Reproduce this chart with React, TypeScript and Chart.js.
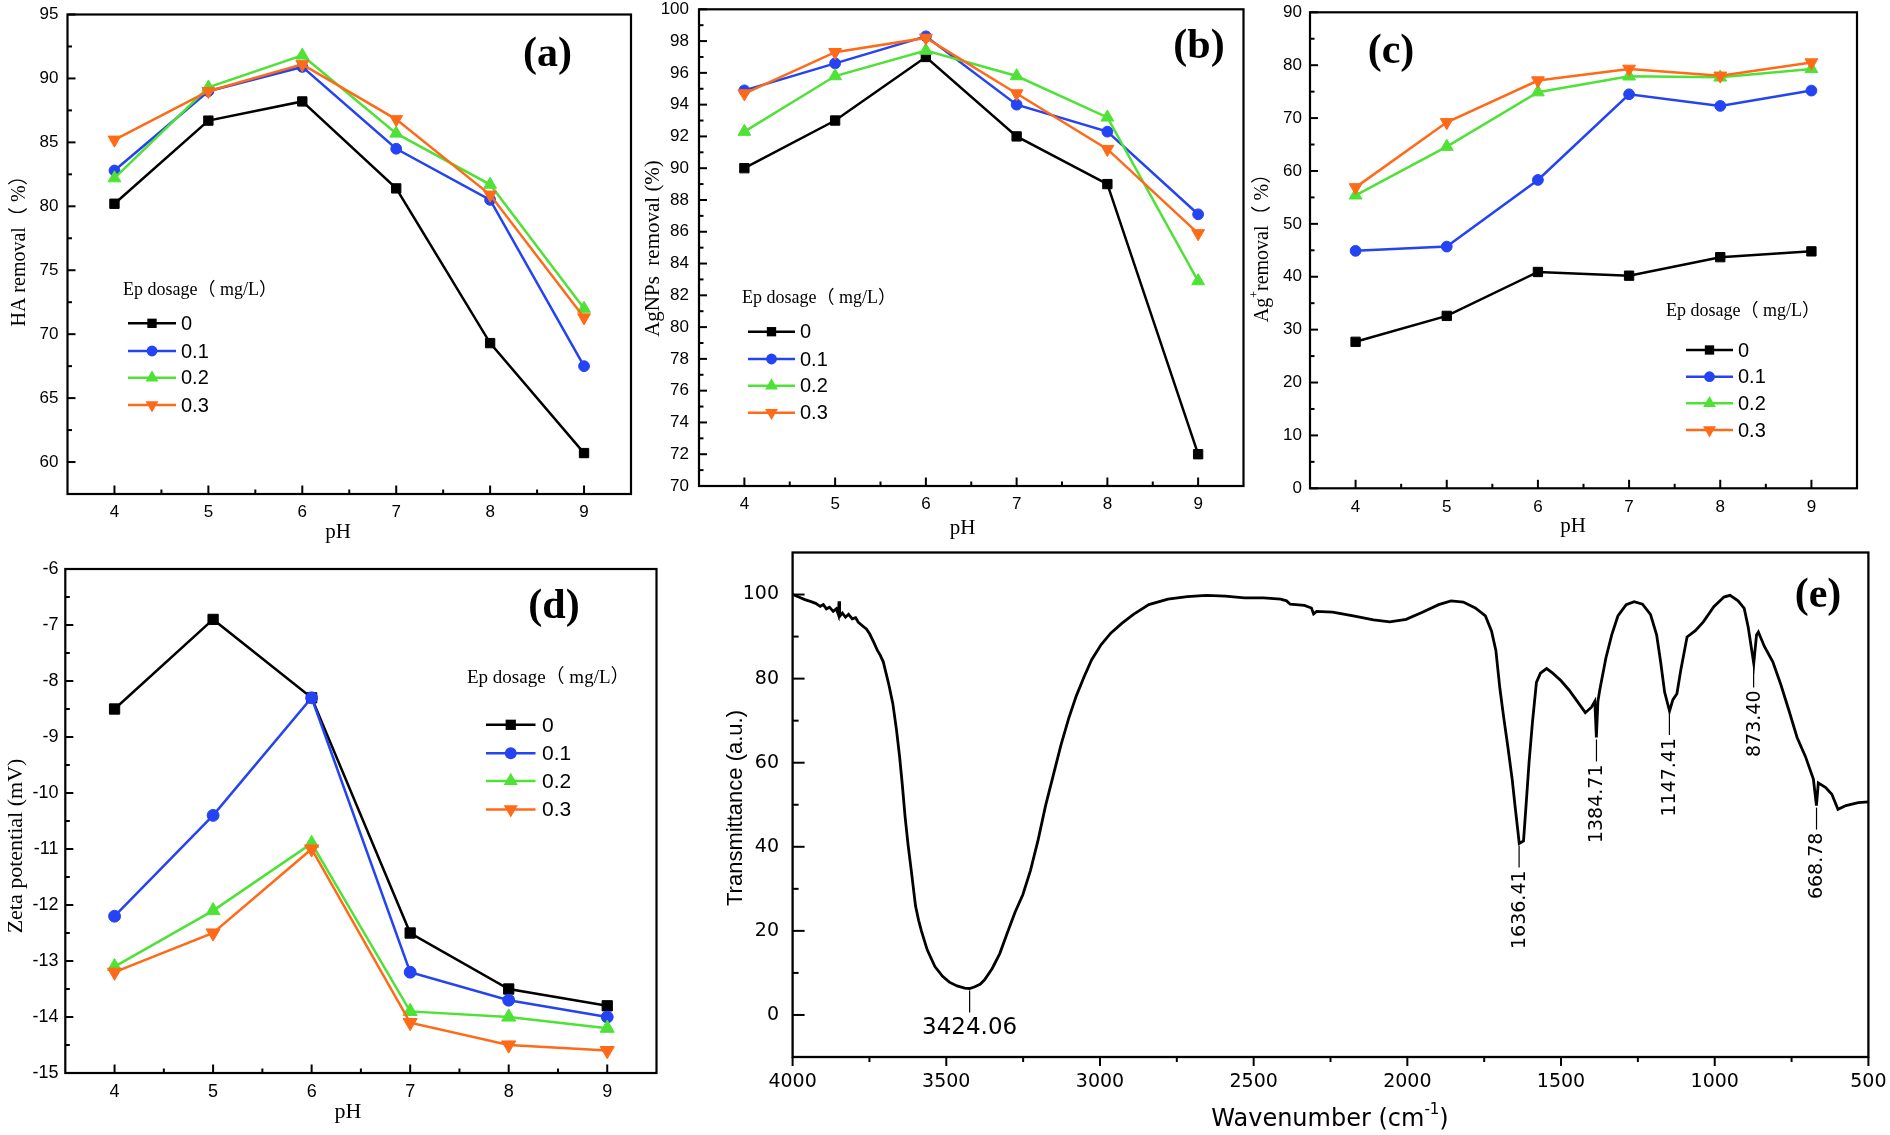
import React, { useEffect, useRef } from "react";
import { Chart, registerables } from "chart.js";

Chart.register(...registerables);

// ---------------- data ----------------
const PH = [4, 5, 6, 7, 8, 9];
const DOSAGE_LABELS = ["0", "0.1", "0.2", "0.3"];
const LEGEND_TITLE = "Ep dosage（ mg/L）";

const HA_REMOVAL_0 = [80.2, 86.7, 88.2, 81.4, 69.3, 60.7];
const HA_REMOVAL_01 = [82.8, 89.0, 90.9, 84.5, 80.5, 67.5];
const HA_REMOVAL_02 = [82.2, 89.3, 91.8, 85.7, 81.7, 72.0];
const HA_REMOVAL_03 = [85.2, 89.0, 91.1, 86.8, 80.9, 71.3];

const AGNP_REMOVAL_0 = [90.0, 93.0, 97.0, 92.0, 89.0, 72.0];
const AGNP_REMOVAL_01 = [94.9, 96.6, 98.3, 94.0, 92.3, 87.1];
const AGNP_REMOVAL_02 = [92.3, 95.8, 97.4, 95.8, 93.2, 82.9];
const AGNP_REMOVAL_03 = [94.7, 97.3, 98.2, 94.7, 91.2, 85.9];

const AGION_REMOVAL_0 = [27.7, 32.6, 40.9, 40.2, 43.7, 44.8];
const AGION_REMOVAL_01 = [44.9, 45.7, 58.3, 74.5, 72.3, 75.2];
const AGION_REMOVAL_02 = [55.4, 64.6, 74.9, 77.9, 77.7, 79.3];
const AGION_REMOVAL_03 = [56.9, 69.2, 77.1, 79.3, 78.0, 80.5];

const ZETA_0 = [-8.5, -6.9, -8.3, -12.5, -13.5, -13.8];
const ZETA_01 = [-12.2, -10.4, -8.3, -13.2, -13.7, -14.0];
const ZETA_02 = [-13.1, -12.1, -10.9, -13.9, -14.0, -14.2];
const ZETA_03 = [-13.2, -12.5, -11.0, -14.1, -14.5, -14.6];

const PH_TICKS = [4, 5, 6, 7, 8, 9];
const HA_TICKS = [60, 65, 70, 75, 80, 85, 90, 95];
const AGNP_TICKS = [70, 72, 74, 76, 78, 80, 82, 84, 86, 88, 90, 92, 94, 96, 98, 100];
const AGION_TICKS = [0, 10, 20, 30, 40, 50, 60, 70, 80, 90];
const ZETA_TICKS = [-15, -14, -13, -12, -11, -10, -9, -8, -7, -6];
const WN_TICKS = [4000, 3500, 3000, 2500, 2000, 1500, 1000, 500];
const T_TICKS = [0, 20, 40, 60, 80, 100];

const WAVENUMBER = [
  4000, 3980, 3960, 3940, 3925, 3910, 3900, 3890, 3880, 3868, 3858, 3851, 3849, 3847,
  3838, 3828, 3818, 3806, 3795, 3786, 3770, 3760, 3749, 3735, 3724, 3715, 3705, 3695,
  3687, 3674, 3662, 3652, 3643, 3634, 3624, 3614, 3600, 3590, 3581, 3562, 3537, 3512,
  3490, 3465, 3440, 3424, 3407, 3390, 3376, 3351, 3326, 3301, 3276, 3251, 3226, 3201,
  3177, 3152, 3127, 3102, 3077, 3052, 3027, 2996, 2965, 2928, 2891, 2841, 2779, 2716,
  2654, 2592, 2530, 2468, 2412, 2393, 2381, 2335, 2312, 2305, 2295, 2243, 2176, 2110,
  2057, 2004, 1951, 1898, 1858, 1818, 1779, 1746, 1726, 1712, 1699, 1686, 1673, 1659,
  1649, 1640, 1636, 1622, 1613, 1604, 1593, 1580, 1567, 1547, 1527, 1500, 1474, 1447,
  1421, 1401, 1390, 1385, 1380, 1374, 1354, 1335, 1315, 1288, 1262, 1235, 1209, 1189,
  1176, 1163, 1147, 1136, 1123, 1110, 1090, 1063, 1037, 1003, 970, 950, 924, 904,
  891, 873, 864, 858, 838, 811, 785, 758, 732, 705, 679, 669, 663, 639,
  619, 599, 573, 533, 500,
];
const TRANSMITTANCE = [
  100.0, 99.4, 98.8, 98.3, 97.9, 97.2, 97.6, 96.6, 97.0, 96.0, 96.6, 95.2, 98.4, 94.8,
  95.6, 94.6, 95.3, 94.2, 94.5, 93.4, 92.4, 91.8, 90.6, 88.5, 86.7, 85.6, 84.0, 81.0,
  78.6, 74.1, 67.8, 61.5, 54.7, 47.1, 40.3, 34.4, 25.9, 22.5, 20.0, 15.5, 11.5, 9.2,
  7.8, 6.9, 6.4, 6.3, 6.7, 7.3, 8.3, 11.0, 14.6, 19.6, 24.5, 28.6, 34.4, 41.7,
  49.8, 57.0, 64.2, 70.5, 75.9, 80.4, 84.5, 88.1, 90.8, 93.2, 95.3, 97.6, 98.9, 99.5,
  99.8, 99.6, 99.2, 99.2, 98.9, 98.5, 97.7, 97.4, 96.8, 95.4, 96.0, 95.8, 94.9, 94.0,
  93.5, 94.1, 95.8, 97.6, 98.5, 98.2, 96.8, 94.9, 91.3, 86.7, 77.7, 70.5, 63.8, 56.1,
  49.3, 43.5, 40.8, 41.4, 50.7, 60.1, 69.6, 79.1, 81.3, 82.4, 81.3, 79.5, 77.3, 74.6,
  71.9, 73.2, 74.6, 66.0, 74.6, 77.3, 84.9, 90.4, 94.9, 97.6, 98.3, 97.7, 95.3, 90.4,
  84.0, 76.8, 72.3, 75.0, 76.4, 82.2, 89.9, 91.4, 93.5, 97.1, 99.4, 99.8, 98.5, 96.7,
  92.2, 83.6, 90.4, 91.1, 87.6, 84.0, 78.6, 72.3, 66.0, 61.5, 56.1, 49.8, 55.2, 54.1,
  52.5, 48.9, 49.8, 50.5, 50.7,
];

const PEAK_WN = [3424.06, 1636.41, 1384.71, 1147.41, 873.4, 668.78];
const PEAK_T = [6.3, 40.8, 66.0, 72.3, 83.6, 49.8];
const PEAK_LABELS = ["3424.06", "1636.41", "1384.71", "1147.41", "873.40", "668.78"];

// ---------------- styles ----------------
const BLUE = "#2443f2";
const GREEN = "#4fe236";
const ORANGE = "#ff6a18";
const SERIES_STYLES = [
  { color: "#000000", shape: "rect", rot: 0 },
  { color: BLUE, shape: "circle", rot: 0 },
  { color: GREEN, shape: "triangle", rot: 0 },
  { color: ORANGE, shape: "triangle", rot: 180 },
];
const MARKER_R: Record<string, number> = { rect: 6.6, circle: 5.4, triangle: 7.4 };

const SANS = "'Liberation Sans', Arial, sans-serif";
const SERIF = "'Liberation Serif', 'Times New Roman', 'Noto Sans CJK SC', serif";
const DEJAVU = "'DejaVu Sans', sans-serif";

type Part = { t: string; sup?: boolean };

const PANEL_A = {
  id: "a", left: 67.5, top: 14.5, right: 631, bottom: 494, m: [68, 15, 12, 52],
  xMin: 3.5, xMax: 9.5, yMin: 57.5, yMax: 95, xTicks: PH_TICKS, yTicks: HA_TICKS,
  series: [HA_REMOVAL_0, HA_REMOVAL_01, HA_REMOVAL_02, HA_REMOVAL_03],
  tickFont: 17, xTickY: 512.5, yTickRight: 58.5,
  yTitle: [{ t: "HA removal（ %）" }] as Part[], yTitleX: 20, yTitleY: 246, yTitleSize: 20,
  xTitleX: 338, xTitleY: 532.5, xTitleSize: 21,
  legend: { titleX: 123, titleY: 290, titleSize: 18, x1: 128, x2: 176, labelX: 181, rows: [323.3, 351, 377.7, 405], labelSize: 20 },
  label: "(a)", labelX: 547.5, labelY: 55, markerScale: 1,
};
const PANEL_B = {
  id: "b", left: 699, top: 9.3, right: 1243.5, bottom: 486, m: [62, 9, 10, 55],
  xMin: 3.5, xMax: 9.5, yMin: 70, yMax: 100, xTicks: PH_TICKS, yTicks: AGNP_TICKS,
  series: [AGNP_REMOVAL_0, AGNP_REMOVAL_01, AGNP_REMOVAL_02, AGNP_REMOVAL_03],
  tickFont: 17, xTickY: 504, yTickRight: 689,
  yTitle: [{ t: "AgNPs  removal (%)" }] as Part[], yTitleX: 653.5, yTitleY: 248.5, yTitleSize: 21,
  xTitleX: 962.5, xTitleY: 528, xTitleSize: 21,
  legend: { titleX: 742, titleY: 298, titleSize: 18, x1: 748, x2: 795, labelX: 800, rows: [331.7, 359, 385.7, 412.7], labelSize: 20 },
  label: "(b)", labelX: 1199, labelY: 47.5, markerScale: 1,
};
const PANEL_C = {
  id: "c", left: 1310, top: 12.3, right: 1857, bottom: 488.3, m: [60, 12, 20, 55],
  xMin: 3.5, xMax: 9.5, yMin: 0, yMax: 90, xTicks: PH_TICKS, yTicks: AGION_TICKS,
  series: [AGION_REMOVAL_0, AGION_REMOVAL_01, AGION_REMOVAL_02, AGION_REMOVAL_03],
  tickFont: 17, xTickY: 507.5, yTickRight: 1302,
  yTitle: [{ t: "Ag" }, { t: "+", sup: true }, { t: "removal（ %）" }] as Part[], yTitleX: 1263, yTitleY: 243, yTitleSize: 20,
  xTitleX: 1573, xTitleY: 526, xTitleSize: 21,
  legend: { titleX: 1666, titleY: 311.7, titleSize: 18, x1: 1686, x2: 1733, labelX: 1738, rows: [350, 376.7, 403.3, 430], labelSize: 20 },
  label: "(c)", labelX: 1391, labelY: 52.5, markerScale: 1,
};
const PANEL_D = {
  id: "d", left: 65.3, top: 569, right: 656.5, bottom: 1073, m: [66, 20, 12, 62],
  xMin: 3.5, xMax: 9.5, yMin: -15, yMax: -6, xTicks: PH_TICKS, yTicks: ZETA_TICKS,
  series: [ZETA_0, ZETA_01, ZETA_02, ZETA_03],
  tickFont: 18, xTickY: 1092, yTickRight: 58.4,
  yTitle: [{ t: "Zeta potential (mV)" }] as Part[], yTitleX: 16, yTitleY: 846, yTitleSize: 22,
  xTitleX: 348, xTitleY: 1112, xTitleSize: 22,
  legend: { titleX: 467, titleY: 678.5, titleSize: 19, x1: 486, x2: 535.5, labelX: 542, rows: [724.8, 753.3, 781, 809.4], labelSize: 21 },
  label: "(d)", labelX: 554, labelY: 607, markerScale: 1.1,
};
const PANEL_E = {
  id: "e", left: 792.6, top: 552.5, right: 1868.4, bottom: 1057, m: [80, 10, 21, 78],
  xMin: 500, xMax: 4000, yMin: -10, yMax: 110, xTicks: WN_TICKS, yTicks: T_TICKS,
  tickFont: 19, xTickY: 1082, yTickRight: 779,
  yTitleX: 736, yTitleY: 808, xTitleX: 1330, xTitleY: 1120,
  label: "(e)", labelX: 1818, labelY: 596,
};

// ---------------- helpers ----------------
function geometry(p: any) {
  const [ml, mt, mr, mb] = p.m;
  const x = Math.floor(p.left - ml);
  const y = Math.floor(p.top - mt);
  const w = Math.ceil(p.right + mr) - x;
  const h = Math.ceil(p.bottom + mb) - y;
  return {
    x, y, w, h,
    pad: { left: p.left - x, top: p.top - y, right: x + w - p.right, bottom: y + h - p.bottom },
  };
}

function minorTicks(ticks: number[], lo: number, hi: number) {
  const sorted = [...ticks].sort((a, b) => a - b);
  const s = sorted[1] - sorted[0];
  const cands = [sorted[0] - s / 2, ...sorted.map((v) => v + s / 2)];
  return cands.filter((c) => c > lo + 1e-9 && c < hi - 1e-9);
}

function drawRich(ctx: CanvasRenderingContext2D, parts: Part[], x: number, y: number, size: number, family: string, rotate: boolean, weight = "normal") {
  ctx.save();
  ctx.translate(x, y);
  if (rotate) ctx.rotate(-Math.PI / 2);
  ctx.textBaseline = "middle";
  ctx.textAlign = "left";
  ctx.fillStyle = "#000";
  const fontFor = (p: Part) => `${weight} ${p.sup ? Math.round(size * 0.62) : size}px ${family}`;
  let total = 0;
  for (const p of parts) {
    ctx.font = fontFor(p);
    total += ctx.measureText(p.t).width;
  }
  let cx = -total / 2;
  for (const p of parts) {
    ctx.font = fontFor(p);
    ctx.fillText(p.t, cx, p.sup ? -size * 0.4 : 0);
    cx += ctx.measureText(p.t).width;
  }
  ctx.restore();
}

function drawMarker(ctx: CanvasRenderingContext2D, shape: string, x: number, y: number, r: number, rot: number, color: string) {
  ctx.save();
  ctx.fillStyle = color;
  ctx.beginPath();
  if (shape === "rect") {
    const s = r * Math.SQRT1_2;
    ctx.rect(x - s, y - s, 2 * s, 2 * s);
  } else if (shape === "circle") {
    ctx.arc(x, y, r, 0, Math.PI * 2);
  } else {
    let rad = (rot * Math.PI) / 180;
    ctx.moveTo(x + Math.sin(rad) * r, y - Math.cos(rad) * r);
    rad += (2 * Math.PI) / 3;
    ctx.lineTo(x + Math.sin(rad) * r, y - Math.cos(rad) * r);
    rad += (2 * Math.PI) / 3;
    ctx.lineTo(x + Math.sin(rad) * r, y - Math.cos(rad) * r);
    ctx.closePath();
  }
  ctx.fill();
  ctx.restore();
}

type TickOpts = { xMajor: number; xMinor: number; yMajor: number; yMinor: number; xOut: boolean; width: number; frame: number };

function frameAndTicks(chart: any, p: any, opts: TickOpts) {
  const { ctx, chartArea: ca } = chart;
  const xs = chart.scales.x;
  const ys = chart.scales.y;
  ctx.save();
  ctx.strokeStyle = "#000";
  ctx.lineCap = "butt";
  ctx.lineWidth = opts.width;
  const xd = opts.xOut ? 1 : -1;
  const xTick = (v: number, len: number) => {
    const px = xs.getPixelForValue(v);
    ctx.beginPath();
    ctx.moveTo(px, ca.bottom);
    ctx.lineTo(px, ca.bottom + xd * len);
    ctx.stroke();
  };
  const yTick = (v: number, len: number) => {
    const py = ys.getPixelForValue(v);
    ctx.beginPath();
    ctx.moveTo(ca.left, py);
    ctx.lineTo(ca.left + len, py);
    ctx.stroke();
  };
  p.xTicks.forEach((v: number) => xTick(v, opts.xMajor));
  minorTicks(p.xTicks, p.xMin, p.xMax).forEach((v) => xTick(v, opts.xMinor));
  p.yTicks.forEach((v: number) => yTick(v, opts.yMajor));
  minorTicks(p.yTicks, p.yMin, p.yMax).forEach((v) => yTick(v, opts.yMinor));
  ctx.lineWidth = opts.frame;
  ctx.strokeRect(ca.left, ca.top, ca.right - ca.left, ca.bottom - ca.top);
  ctx.restore();
}

function tickLabels(chart: any, p: any, ox: number, oy: number, font: string) {
  const { ctx } = chart;
  const xs = chart.scales.x;
  const ys = chart.scales.y;
  ctx.save();
  ctx.fillStyle = "#000";
  ctx.font = font;
  ctx.textBaseline = "middle";
  ctx.textAlign = "center";
  p.xTicks.forEach((v: number) => ctx.fillText(String(v), xs.getPixelForValue(v), p.xTickY - oy));
  ctx.textAlign = "right";
  p.yTicks.forEach((v: number) => ctx.fillText(String(v), p.yTickRight - ox, ys.getPixelForValue(v)));
  ctx.restore();
}

function phPlugin(p: any, g: any) {
  const ox = g.x;
  const oy = g.y;
  return {
    id: "decor_" + p.id,
    beforeDatasetsDraw(chart: any) {
      frameAndTicks(chart, p, { xMajor: 8.5, xMinor: 4.5, yMajor: 8, yMinor: 4.5, xOut: false, width: 2, frame: 2.2 });
    },
    afterDraw(chart: any) {
      const { ctx } = chart;
      tickLabels(chart, p, ox, oy, `${p.tickFont}px ${SANS}`);
      drawRich(ctx, p.yTitle, p.yTitleX - ox, p.yTitleY - oy, p.yTitleSize, SERIF, true);
      drawRich(ctx, [{ t: "pH" }], p.xTitleX - ox, p.xTitleY - oy, p.xTitleSize, SERIF, false);
      // legend
      const L = p.legend;
      ctx.save();
      ctx.fillStyle = "#000";
      ctx.textBaseline = "middle";
      ctx.textAlign = "left";
      ctx.font = `${L.titleSize}px ${SERIF}`;
      ctx.fillText(LEGEND_TITLE, L.titleX - ox, L.titleY - oy);
      ctx.font = `${L.labelSize}px ${SANS}`;
      SERIES_STYLES.forEach((s, i) => {
        const y = L.rows[i] - oy;
        ctx.strokeStyle = s.color;
        ctx.lineWidth = 2.5;
        ctx.beginPath();
        ctx.moveTo(L.x1 - ox, y);
        ctx.lineTo(L.x2 - ox, y);
        ctx.stroke();
        drawMarker(ctx, s.shape, (L.x1 + L.x2) / 2 - ox, y, MARKER_R[s.shape] * p.markerScale, s.rot, s.color);
        ctx.fillStyle = "#000";
        ctx.fillText(DOSAGE_LABELS[i], L.labelX - ox, y + 1);
      });
      ctx.restore();
      drawRich(ctx, [{ t: p.label }], p.labelX - ox, p.labelY - oy, 42, SERIF, false, "bold");
    },
  };
}

function irPlugin(p: any, g: any) {
  const ox = g.x;
  const oy = g.y;
  return {
    id: "decor_e",
    beforeDatasetsDraw(chart: any) {
      frameAndTicks(chart, p, { xMajor: 9, xMinor: 5, yMajor: 12, yMinor: 6, xOut: true, width: 2, frame: 2.3 });
    },
    afterDraw(chart: any) {
      const { ctx } = chart;
      const xs = chart.scales.x;
      const ys = chart.scales.y;
      tickLabels(chart, p, ox, oy, `${p.tickFont}px ${DEJAVU}`);
      drawRich(ctx, [{ t: "Transmittance (a.u.)" }], p.yTitleX - ox, p.yTitleY - oy, 22, SANS, true);
      drawRich(ctx, [{ t: "Wavenumber (cm" }, { t: "-1", sup: true }, { t: ")" }], p.xTitleX - ox, p.xTitleY - oy, 24, DEJAVU, false);
      drawRich(ctx, [{ t: p.label }], p.labelX - ox, p.labelY - oy, 42, SERIF, false, "bold");
      // peak annotations
      ctx.save();
      ctx.strokeStyle = "#000";
      ctx.fillStyle = "#000";
      ctx.lineWidth = 1.2;
      PEAK_WN.forEach((wn, i) => {
        const px = xs.getPixelForValue(wn);
        const py = ys.getPixelForValue(PEAK_T[i]);
        ctx.beginPath();
        ctx.moveTo(px, py + 2);
        ctx.lineTo(px, py + 24);
        ctx.stroke();
        if (i === 0) {
          ctx.font = `23px ${DEJAVU}`;
          ctx.textAlign = "center";
          ctx.textBaseline = "top";
          ctx.fillText(PEAK_LABELS[i], px, py + 28);
        } else {
          ctx.save();
          ctx.font = `19px ${DEJAVU}`;
          ctx.translate(px + 1, py + 27);
          ctx.rotate(-Math.PI / 2);
          ctx.textAlign = "right";
          ctx.textBaseline = "middle";
          ctx.fillText(PEAK_LABELS[i], 0, 0);
          ctx.restore();
        }
      });
      ctx.restore();
    },
  };
}

function PhChart({ p }: { p: any }) {
  const ref = useRef<HTMLCanvasElement>(null);
  const g = geometry(p);
  useEffect(() => {
    const datasets = p.series.map((vals: number[], i: number) => {
      const s = SERIES_STYLES[i];
      return {
        label: DOSAGE_LABELS[i],
        data: PH.map((x, j) => ({ x, y: vals[j] })),
        borderColor: s.color,
        backgroundColor: s.color,
        pointBackgroundColor: s.color,
        pointBorderColor: s.color,
        pointBorderWidth: 1,
        pointStyle: s.shape,
        pointRotation: s.rot,
        pointRadius: MARKER_R[s.shape] * p.markerScale,
        borderWidth: 2.5,
        tension: 0,
        order: 3 - i,
      };
    });
    const chart = new Chart(ref.current as HTMLCanvasElement, {
      type: "line",
      data: { datasets },
      options: {
        animation: false,
        responsive: false,
        maintainAspectRatio: false,
        events: [],
        layout: { padding: g.pad },
        plugins: { legend: { display: false }, tooltip: { enabled: false } },
        scales: {
          x: { type: "linear", display: false, min: p.xMin, max: p.xMax },
          y: { type: "linear", display: false, min: p.yMin, max: p.yMax },
        },
      },
      plugins: [phPlugin(p, g)],
    } as any);
    return () => chart.destroy();
  }, []);
  return (
    <canvas
      ref={ref}
      width={g.w}
      height={g.h}
      style={{ position: "absolute", left: g.x, top: g.y, width: g.w, height: g.h }}
    />
  );
}

function IrChart({ p }: { p: any }) {
  const ref = useRef<HTMLCanvasElement>(null);
  const g = geometry(p);
  useEffect(() => {
    const chart = new Chart(ref.current as HTMLCanvasElement, {
      type: "line",
      data: {
        datasets: [
          {
            label: "FTIR",
            data: WAVENUMBER.map((x, i) => ({ x, y: TRANSMITTANCE[i] })),
            borderColor: "#000",
            borderWidth: 2.8,
            pointRadius: 0,
            tension: 0,
          },
        ],
      },
      options: {
        animation: false,
        responsive: false,
        maintainAspectRatio: false,
        events: [],
        layout: { padding: g.pad },
        plugins: { legend: { display: false }, tooltip: { enabled: false } },
        scales: {
          x: { type: "linear", display: false, min: p.xMin, max: p.xMax, reverse: true },
          y: { type: "linear", display: false, min: p.yMin, max: p.yMax },
        },
      },
      plugins: [irPlugin(p, g)],
    } as any);
    return () => chart.destroy();
  }, []);
  return (
    <canvas
      ref={ref}
      width={g.w}
      height={g.h}
      style={{ position: "absolute", left: g.x, top: g.y, width: g.w, height: g.h }}
    />
  );
}

export default function App() {
  return (
    <div
      style={{
        position: "absolute",
        left: 0,
        top: 0,
        width: 1890,
        height: 1135,
        background: "#ffffff",
        overflow: "hidden",
      }}
    >
      <PhChart p={PANEL_A} />
      <PhChart p={PANEL_B} />
      <PhChart p={PANEL_C} />
      <PhChart p={PANEL_D} />
      <IrChart p={PANEL_E} />
    </div>
  );
}
